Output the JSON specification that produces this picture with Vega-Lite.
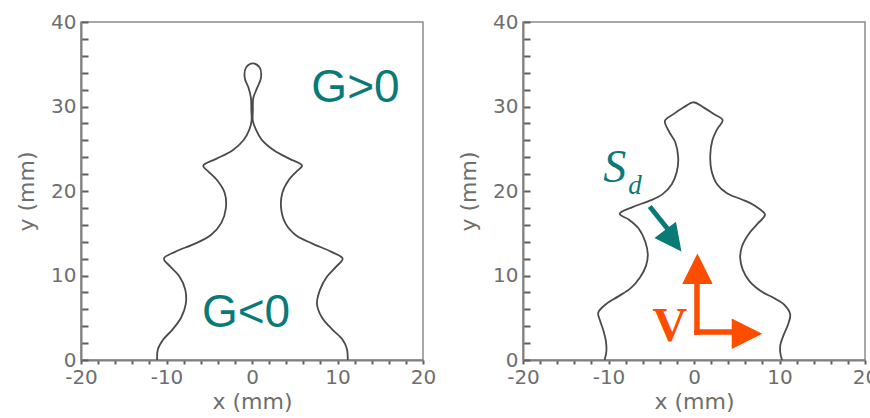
{
  "$schema": "https://vega.github.io/schema/vega-lite/v6.json",
  "padding": {"left": 14, "top": 11, "right": 0, "bottom": 0},
  "background": "white",
  "spacing": 19,
  "config": {
    "view": {"stroke": "#8c8c8c", "strokeWidth": 1.5},
    "axis": {
      "domainColor": "#808080", "domainWidth": 2,
      "tickColor": "#5e5e5e", "tickWidth": 2,
      "labelColor": "#6e6e6e", "labelFont": "DejaVu Sans", "labelFontSize": 20,
      "titleColor": "#6e6e6e", "titleFont": "DejaVu Sans", "titleFontSize": 22, "titleFontWeight": "normal",
      "grid": false, "labelOverlap": false, "labelFlush": false
    }
  },
  "datasets": {
    "curve": [
      {"panel": "a", "i": 1, "x": -11.1, "y": 0},
      {"panel": "a", "i": 2, "x": -11.0, "y": 1.3},
      {"panel": "a", "i": 3, "x": -10.4, "y": 2.4},
      {"panel": "a", "i": 4, "x": -9.3, "y": 3.6},
      {"panel": "a", "i": 5, "x": -8.3, "y": 5.0},
      {"panel": "a", "i": 6, "x": -7.75, "y": 6.6},
      {"panel": "a", "i": 7, "x": -7.8, "y": 8.3},
      {"panel": "a", "i": 8, "x": -8.5, "y": 9.9},
      {"panel": "a", "i": 9, "x": -9.6, "y": 11.1},
      {"panel": "a", "i": 10, "x": -10.3, "y": 12.0},
      {"panel": "a", "i": 11, "x": -9.0, "y": 12.8},
      {"panel": "a", "i": 12, "x": -6.6, "y": 13.8},
      {"panel": "a", "i": 13, "x": -4.8, "y": 14.8},
      {"panel": "a", "i": 14, "x": -3.6, "y": 16.2},
      {"panel": "a", "i": 15, "x": -3.05, "y": 18.0},
      {"panel": "a", "i": 16, "x": -3.2, "y": 19.8},
      {"panel": "a", "i": 17, "x": -4.1, "y": 21.3},
      {"panel": "a", "i": 18, "x": -5.1, "y": 22.3},
      {"panel": "a", "i": 19, "x": -5.7, "y": 23.0},
      {"panel": "a", "i": 20, "x": -4.2, "y": 23.8},
      {"panel": "a", "i": 21, "x": -2.3, "y": 24.8},
      {"panel": "a", "i": 22, "x": -1.0, "y": 26.0},
      {"panel": "a", "i": 23, "x": -0.3, "y": 27.3},
      {"panel": "a", "i": 24, "x": -0.05, "y": 28.3},
      {"panel": "a", "i": 25, "x": -0.08, "y": 29.6},
      {"panel": "a", "i": 26, "x": -0.12, "y": 31.0},
      {"panel": "a", "i": 27, "x": -0.4, "y": 32.2},
      {"panel": "a", "i": 28, "x": -0.85, "y": 33.4},
      {"panel": "a", "i": 29, "x": -0.7, "y": 34.6},
      {"panel": "a", "i": 30, "x": 0.1, "y": 35.1},
      {"panel": "a", "i": 31, "x": 0.9, "y": 34.6},
      {"panel": "a", "i": 32, "x": 1.05, "y": 33.4},
      {"panel": "a", "i": 33, "x": 0.6, "y": 32.2},
      {"panel": "a", "i": 34, "x": 0.15, "y": 31.0},
      {"panel": "a", "i": 35, "x": 0.1, "y": 29.6},
      {"panel": "a", "i": 36, "x": 0.1, "y": 28.3},
      {"panel": "a", "i": 37, "x": 0.45, "y": 27.3},
      {"panel": "a", "i": 38, "x": 1.2, "y": 26.0},
      {"panel": "a", "i": 39, "x": 2.6, "y": 24.8},
      {"panel": "a", "i": 40, "x": 4.4, "y": 23.8},
      {"panel": "a", "i": 41, "x": 5.85, "y": 23.0},
      {"panel": "a", "i": 42, "x": 5.2, "y": 22.3},
      {"panel": "a", "i": 43, "x": 4.3, "y": 21.3},
      {"panel": "a", "i": 44, "x": 3.55, "y": 19.8},
      {"panel": "a", "i": 45, "x": 3.4, "y": 18.0},
      {"panel": "a", "i": 46, "x": 3.9, "y": 16.2},
      {"panel": "a", "i": 47, "x": 5.1, "y": 14.8},
      {"panel": "a", "i": 48, "x": 7.0, "y": 13.8},
      {"panel": "a", "i": 49, "x": 9.3, "y": 12.8},
      {"panel": "a", "i": 50, "x": 10.6, "y": 12.0},
      {"panel": "a", "i": 51, "x": 9.9, "y": 11.1},
      {"panel": "a", "i": 52, "x": 8.8, "y": 9.9},
      {"panel": "a", "i": 53, "x": 7.95, "y": 8.3},
      {"panel": "a", "i": 54, "x": 7.6, "y": 6.6},
      {"panel": "a", "i": 55, "x": 8.2, "y": 5.0},
      {"panel": "a", "i": 56, "x": 9.4, "y": 3.6},
      {"panel": "a", "i": 57, "x": 10.6, "y": 2.4},
      {"panel": "a", "i": 58, "x": 11.1, "y": 1.3},
      {"panel": "a", "i": 59, "x": 11.2, "y": 0},
      {"panel": "b", "i": 1, "x": -10.45, "y": 0},
      {"panel": "b", "i": 2, "x": -10.25, "y": 1.0},
      {"panel": "b", "i": 3, "x": -10.3, "y": 2.2},
      {"panel": "b", "i": 4, "x": -10.6, "y": 3.5},
      {"panel": "b", "i": 5, "x": -11.0, "y": 4.7},
      {"panel": "b", "i": 6, "x": -11.2, "y": 5.6},
      {"panel": "b", "i": 7, "x": -10.3, "y": 6.6},
      {"panel": "b", "i": 8, "x": -8.9, "y": 7.5},
      {"panel": "b", "i": 9, "x": -7.4, "y": 8.5},
      {"panel": "b", "i": 10, "x": -6.3, "y": 9.8},
      {"panel": "b", "i": 11, "x": -5.6, "y": 11.2},
      {"panel": "b", "i": 12, "x": -5.4, "y": 12.5},
      {"panel": "b", "i": 13, "x": -5.7, "y": 14.0},
      {"panel": "b", "i": 14, "x": -6.5, "y": 15.6},
      {"panel": "b", "i": 15, "x": -7.6, "y": 16.6},
      {"panel": "b", "i": 16, "x": -8.7, "y": 17.3},
      {"panel": "b", "i": 17, "x": -7.2, "y": 18.1},
      {"panel": "b", "i": 18, "x": -5.3, "y": 18.8},
      {"panel": "b", "i": 19, "x": -3.7, "y": 19.6},
      {"panel": "b", "i": 20, "x": -2.6, "y": 20.8},
      {"panel": "b", "i": 21, "x": -2.0, "y": 22.3},
      {"panel": "b", "i": 22, "x": -1.85, "y": 24.0},
      {"panel": "b", "i": 23, "x": -2.2, "y": 25.8},
      {"panel": "b", "i": 24, "x": -2.9, "y": 27.0},
      {"panel": "b", "i": 25, "x": -3.4, "y": 28.3},
      {"panel": "b", "i": 26, "x": -2.4, "y": 29.1},
      {"panel": "b", "i": 27, "x": -1.2, "y": 29.9},
      {"panel": "b", "i": 28, "x": -0.1, "y": 30.5},
      {"panel": "b", "i": 29, "x": 1.1, "y": 29.9},
      {"panel": "b", "i": 30, "x": 2.3, "y": 29.1},
      {"panel": "b", "i": 31, "x": 3.35, "y": 28.4},
      {"panel": "b", "i": 32, "x": 2.7, "y": 27.3},
      {"panel": "b", "i": 33, "x": 2.15, "y": 26.0},
      {"panel": "b", "i": 34, "x": 1.9, "y": 24.2},
      {"panel": "b", "i": 35, "x": 2.05, "y": 22.4},
      {"panel": "b", "i": 36, "x": 2.7, "y": 20.8},
      {"panel": "b", "i": 37, "x": 3.9, "y": 19.7},
      {"panel": "b", "i": 38, "x": 5.6, "y": 19.0},
      {"panel": "b", "i": 39, "x": 7.2, "y": 18.2},
      {"panel": "b", "i": 40, "x": 8.3, "y": 17.2},
      {"panel": "b", "i": 41, "x": 7.5, "y": 16.2},
      {"panel": "b", "i": 42, "x": 6.4, "y": 14.9},
      {"panel": "b", "i": 43, "x": 5.6, "y": 13.4},
      {"panel": "b", "i": 44, "x": 5.4, "y": 12.1},
      {"panel": "b", "i": 45, "x": 5.7, "y": 10.7},
      {"panel": "b", "i": 46, "x": 6.5, "y": 9.3},
      {"panel": "b", "i": 47, "x": 7.9, "y": 8.1},
      {"panel": "b", "i": 48, "x": 9.4, "y": 7.3},
      {"panel": "b", "i": 49, "x": 10.6, "y": 6.5},
      {"panel": "b", "i": 50, "x": 11.25, "y": 5.4},
      {"panel": "b", "i": 51, "x": 11.0, "y": 4.2},
      {"panel": "b", "i": 52, "x": 10.5, "y": 3.0},
      {"panel": "b", "i": 53, "x": 10.1, "y": 1.8},
      {"panel": "b", "i": 54, "x": 10.1, "y": 0.8},
      {"panel": "b", "i": 55, "x": 10.3, "y": 0}
    ],
    "gnotes": [
      {"text": "G>0", "x": 12.1, "y": 30.5},
      {"text": "G<0", "x": -0.7, "y": 3.9}
    ],
    "shafts": [
      {"arrow": "sd", "x": -5.18, "y": 18.16, "x2": -2.84, "y2": 15.2},
      {"arrow": "v", "x": 0.35, "y": 3.3, "x2": 0.35, "y2": 9.0},
      {"arrow": "v", "x": 0.35, "y": 3.3, "x2": 4.4, "y2": 3.3}
    ],
    "heads": [
      {"arrow": "sd", "x": -2.42, "y": 14.13, "angle": 143},
      {"arrow": "v", "x": 0.4, "y": 10.8, "angle": 0},
      {"arrow": "v", "x": 6.2, "y": 3.1, "angle": 90}
    ]
  },
  "hconcat": [
    {
      "width": 342,
      "height": 338,
      "layer": [
        {
          "data": {"name": "curve"},
          "transform": [{"filter": "datum.panel === 'a'"}],
          "mark": {"type": "line", "interpolate": "catmull-rom", "color": "#4a4a4a", "strokeWidth": 1.8},
          "encoding": {
            "x": {"field": "x", "type": "quantitative", "scale": {"domain": [-20, 20], "nice": false},
              "axis": {"title": "x (mm)", "values": [-20,-18,-16,-14,-12,-10,-8,-6,-4,-2,0,2,4,6,8,10,12,14,16,18,20], "tickCount": 21,
                "labelExpr": "datum.value % 10 === 0 ? toString(datum.value) : ''", "tickSize": 4, "labelPadding": 3, "titlePadding": 4}},
            "y": {"field": "y", "type": "quantitative", "scale": {"domain": [0, 40], "nice": false},
              "axis": {"title": "y (mm)", "values": [0,2,4,6,8,10,12,14,16,18,20,22,24,26,28,30,32,34,36,38,40], "tickCount": 21,
                "labelExpr": "datum.value % 10 === 0 ? toString(datum.value) : ''", "tickSize": -7, "labelPadding": 12, "titlePadding": 12}},
            "order": {"field": "i", "type": "quantitative"}
          }
        },
        {
          "data": {"name": "gnotes"},
          "mark": {"type": "text", "font": "Liberation Sans", "fontSize": 46, "color": "#0a7a77", "align": "center", "baseline": "alphabetic"},
          "encoding": {
            "x": {"field": "x", "type": "quantitative"},
            "y": {"field": "y", "type": "quantitative"},
            "text": {"field": "text"}
          }
        }
      ]
    },
    {
      "width": 342,
      "height": 338,
      "layer": [
        {
          "data": {"name": "curve"},
          "transform": [{"filter": "datum.panel === 'b'"}],
          "mark": {"type": "line", "interpolate": "catmull-rom", "color": "#4a4a4a", "strokeWidth": 1.8},
          "encoding": {
            "x": {"field": "x", "type": "quantitative", "scale": {"domain": [-20, 20], "nice": false},
              "axis": {"title": "x (mm)", "values": [-20,-18,-16,-14,-12,-10,-8,-6,-4,-2,0,2,4,6,8,10,12,14,16,18,20], "tickCount": 21,
                "labelExpr": "datum.value % 10 === 0 ? toString(datum.value) : ''", "tickSize": 4, "labelPadding": 3, "titlePadding": 4}},
            "y": {"field": "y", "type": "quantitative", "scale": {"domain": [0, 40], "nice": false},
              "axis": {"title": "y (mm)", "values": [0,2,4,6,8,10,12,14,16,18,20,22,24,26,28,30,32,34,36,38,40], "tickCount": 21,
                "labelExpr": "datum.value % 10 === 0 ? toString(datum.value) : ''", "tickSize": -7, "labelPadding": 12, "titlePadding": 12}},
            "order": {"field": "i", "type": "quantitative"}
          }
        },
        {
          "data": {"name": "shafts"},
          "transform": [{"filter": "datum.arrow === 'sd'"}],
          "mark": {"type": "rule", "color": "#0a7a77", "strokeWidth": 5},
          "encoding": {
            "x": {"field": "x", "type": "quantitative"},
            "y": {"field": "y", "type": "quantitative"},
            "x2": {"field": "x2"},
            "y2": {"field": "y2"}
          }
        },
        {
          "data": {"name": "heads"},
          "transform": [{"filter": "datum.arrow === 'sd'"}],
          "mark": {"type": "point", "shape": "M0,-1L1,1L-1,1Z", "filled": true, "opacity": 1, "color": "#0a7a77", "size": 729},
          "encoding": {
            "x": {"field": "x", "type": "quantitative"},
            "y": {"field": "y", "type": "quantitative"},
            "angle": {"field": "angle", "type": "quantitative", "scale": null}
          }
        },
        {
          "data": {"name": "shafts"},
          "transform": [{"filter": "datum.arrow === 'v'"}],
          "mark": {"type": "rule", "color": "#ff4d00", "strokeWidth": 5.5, "strokeCap": "square"},
          "encoding": {
            "x": {"field": "x", "type": "quantitative"},
            "y": {"field": "y", "type": "quantitative"},
            "x2": {"field": "x2"},
            "y2": {"field": "y2"}
          }
        },
        {
          "data": {"name": "heads"},
          "transform": [{"filter": "datum.arrow === 'v'"}],
          "mark": {"type": "point", "shape": "M0,-1L1,1L-1,1Z", "filled": true, "opacity": 1, "color": "#ff4d00", "size": 930},
          "encoding": {
            "x": {"field": "x", "type": "quantitative"},
            "y": {"field": "y", "type": "quantitative"},
            "angle": {"field": "angle", "type": "quantitative", "scale": null}
          }
        },
        {
          "data": {"values": [{"text": "S", "x": -10.6, "y": 21.1}]},
          "mark": {"type": "text", "font": "Liberation Serif", "fontStyle": "italic", "fontSize": 46, "color": "#0a7a77", "align": "left", "baseline": "alphabetic"},
          "encoding": {
            "x": {"field": "x", "type": "quantitative"},
            "y": {"field": "y", "type": "quantitative"},
            "text": {"field": "text"}
          }
        },
        {
          "data": {"values": [{"text": "d", "x": -7.7, "y": 19.6}]},
          "mark": {"type": "text", "font": "Liberation Serif", "fontStyle": "italic", "fontSize": 27, "color": "#0a7a77", "align": "left", "baseline": "alphabetic"},
          "encoding": {
            "x": {"field": "x", "type": "quantitative"},
            "y": {"field": "y", "type": "quantitative"},
            "text": {"field": "text"}
          }
        },
        {
          "data": {"values": [{"text": "V", "x": -2.84, "y": 2.24}]},
          "mark": {"type": "text", "font": "Liberation Serif", "fontWeight": "bold", "fontSize": 48, "color": "#ff4d00", "align": "center", "baseline": "alphabetic"},
          "encoding": {
            "x": {"field": "x", "type": "quantitative"},
            "y": {"field": "y", "type": "quantitative"},
            "text": {"field": "text"}
          }
        }
      ]
    }
  ]
}
